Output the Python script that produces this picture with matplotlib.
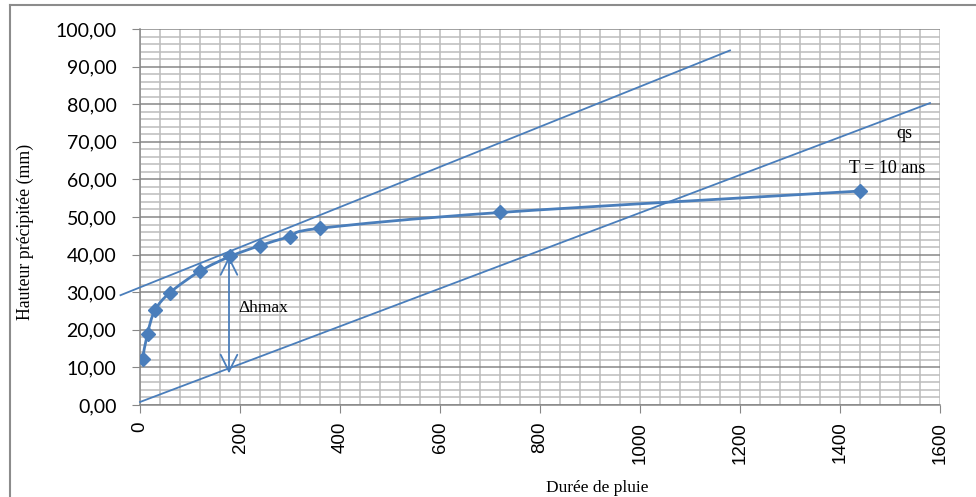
import matplotlib
matplotlib.use('Agg')
import matplotlib.pyplot as plt
from matplotlib.path import Path
from matplotlib.patches import PathPatch
from matplotlib.ticker import MultipleLocator
from matplotlib.lines import Line2D

# data
duree = [5, 15, 30, 60, 120, 180, 240, 300, 360, 720, 1440]
hauteur = [12.2, 19.0, 25.2, 29.9, 35.6, 39.5, 42.4, 44.8, 47.0, 51.2, 56.9]

# the two straight lines (end points)
droite_haut_x = [-39, 1180]
droite_haut_y = [29.2, 94.3]
droite_qs_x = [0, 1580]
droite_qs_y = [0.8, 80.3]

# delta h max arrow
dh_x = 178
dh_haut = 39.6
dh_bas = 8.4

x_ticks = [0, 200, 400, 600, 800, 1000, 1200, 1400, 1600]
y_ticks = [0, 10, 20, 30, 40, 50, 60, 70, 80, 90, 100]
y_labels = ['0,00', '10,00', '20,00', '30,00', '40,00', '50,00',
            '60,00', '70,00', '80,00', '90,00', '100,00']

bleu = '#4a7ebb'

fig = plt.figure(figsize=(9.76, 4.97), dpi=100)
ax = fig.add_axes([140/976, 92/497, 800/976, 376/497])

ax.set_xlim(0, 1600)
ax.set_ylim(0, 100)

# grid
ax.xaxis.set_minor_locator(MultipleLocator(40))
ax.yaxis.set_minor_locator(MultipleLocator(2))
ax.grid(which='minor', color='#bcbcbc', lw=1.1)
ax.grid(which='major', axis='x', color='#bcbcbc', lw=1.1)
ax.grid(which='major', axis='y', color='#878787', lw=1.1)
ax.set_axisbelow(True)
ax.tick_params(which='minor', length=0)

ax.set_xticks(x_ticks)
ax.set_xticklabels([str(v) for v in x_ticks], rotation=90,
                   family='Liberation Sans', fontsize=13.5)
ax.set_yticks(y_ticks)
ax.set_yticklabels(y_labels, family='Lato', fontsize=14)
ax.tick_params(axis='y', which='major', length=6, color='#878787', pad=11)
ax.tick_params(axis='x', which='major', length=6, color='#878787', pad=6)

for s in ['top', 'right']:
    ax.spines[s].set_visible(False)
for s in ['left', 'bottom']:
    ax.spines[s].set_color('#878787')
    ax.spines[s].set_linewidth(1.1)

# smoothed series line (bezier through the points, like the spreadsheet)
pts = list(zip(duree, hauteur))
verts = [pts[0]]
codes = [Path.MOVETO]
n = len(pts)
for i in range(n - 1):
    p0 = pts[i - 1] if i > 0 else pts[i]
    p1 = pts[i]
    p2 = pts[i + 1]
    p3 = pts[i + 2] if i + 2 < n else pts[i + 1]
    c1 = (p1[0] + (p2[0] - p0[0]) / 6, p1[1] + (p2[1] - p0[1]) / 6)
    c2 = (p2[0] - (p3[0] - p1[0]) / 6, p2[1] - (p3[1] - p1[1]) / 6)
    verts += [c1, c2, p2]
    codes += [Path.CURVE4] * 3
ax.add_patch(PathPatch(Path(verts, codes), fill=False, edgecolor=bleu, lw=2.0, zorder=3))
ax.plot(duree, hauteur, ls='none', marker='D', ms=7, color=bleu, zorder=4)

# straight lines
ax.plot(droite_haut_x, droite_haut_y, color=bleu, lw=1.3, clip_on=False, zorder=3)
ax.plot(droite_qs_x, droite_qs_y, color=bleu, lw=1.3, clip_on=False, zorder=3)

# delta h max arrow
ax.annotate('', xy=(dh_x, dh_bas), xytext=(dh_x, dh_haut),
            arrowprops=dict(arrowstyle='<->, head_length=1.2, head_width=0.6',
                            color=bleu, lw=1.3, shrinkA=0, shrinkB=0), zorder=5)

serif = 'Liberation Serif'
ax.text(196, 25.7, 'Δhmax', family=serif, fontsize=12.5, va='center', ha='left')
ax.text(1528, 72.1, 'qs', family=serif, fontsize=13, va='center', ha='center')
ax.text(1494, 62.9, 'T = 10 ans', family=serif, fontsize=13, va='center', ha='center')

fig.text(25/976, 1 - 232/497, 'Hauteur précipitée (mm)', family=serif, fontsize=12.8,
         rotation=90, ha='center', va='center')
fig.text(597/976, 1 - 488/497, 'Durée de pluie', family=serif, fontsize=12.5,
         ha='center', va='center')

# outer frame (left and top edges visible)
fig.add_artist(Line2D([10/976, 10/976], [0, 1 - 5/497], color='#8c8c8c', lw=1.5,
                      transform=fig.transFigure))
fig.add_artist(Line2D([10/976, 1], [1 - 5/497, 1 - 5/497], color='#8c8c8c', lw=1.5,
                      transform=fig.transFigure))

fig.savefig('out.png', dpi=100)
